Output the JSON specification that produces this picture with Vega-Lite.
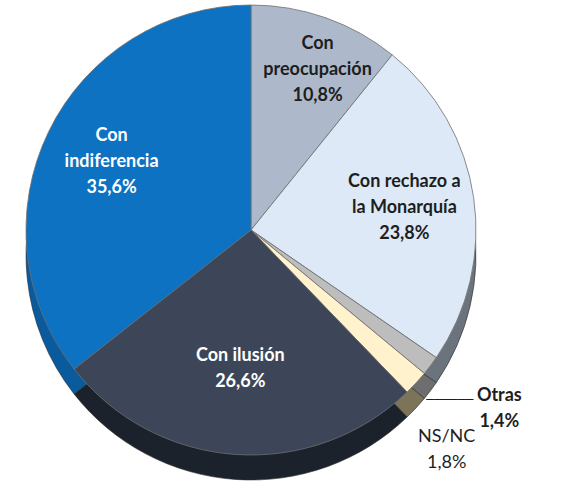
{
  "$schema": "https://vega.github.io/schema/vega-lite/v6.json",
  "width": 502,
  "height": 460,
  "autosize": "none",
  "padding": {"left": 0, "top": 0, "right": 69, "bottom": 24},
  "background": "white",
  "view": {"stroke": null},
  "config": {"font": "Lato"},
  "data": {
    "values": [
      {"categoria": "Con preocupación", "etiqueta": "Con\npreocupación\n10,8%", "porcentaje": 10.8, "orden": 1},
      {"categoria": "Con rechazo a la Monarquía", "etiqueta": "Con rechazo a\nla Monarquía\n23,8%", "porcentaje": 23.8, "orden": 2},
      {"categoria": "Otras", "etiqueta": "Otras\n1,4%", "porcentaje": 1.4, "orden": 3},
      {"categoria": "NS/NC", "etiqueta": "NS/NC\n1,8%", "porcentaje": 1.8, "orden": 4},
      {"categoria": "Con ilusión", "etiqueta": "Con ilusión\n26,6%", "porcentaje": 26.6, "orden": 5},
      {"categoria": "Con indiferencia", "etiqueta": "Con\nindiferencia\n35,6%", "porcentaje": 35.6, "orden": 6}
    ]
  },
  "encoding": {
    "theta": {"field": "porcentaje", "type": "quantitative", "stack": true},
    "order": {"field": "orden", "type": "quantitative", "sort": "ascending"}
  },
  "layer": [
    {
      "mark": {"type": "arc", "radius": 225, "yOffset": 25, "stroke": "#2a2a2a", "strokeWidth": 0.6},
      "encoding": {
        "color": {
          "field": "categoria", "type": "nominal", "legend": null,
          "scale": {
            "domain": ["Con preocupación", "Con rechazo a la Monarquía", "Otras", "NS/NC", "Con ilusión", "Con indiferencia"],
            "range": ["#6f7a88", "#6b737d", "#6e6e6e", "#7b7458", "#1c222c", "#0a5a9e"]
          }
        }
      }
    },
    {
      "mark": {"type": "arc", "radius": 225, "stroke": "#6f6f6f", "strokeWidth": 0.8},
      "encoding": {
        "color": {
          "field": "categoria", "type": "nominal", "legend": null,
          "scale": {
            "domain": ["Con preocupación", "Con rechazo a la Monarquía", "Otras", "NS/NC", "Con ilusión", "Con indiferencia"],
            "range": ["#adb9ca", "#dde9f6", "#bdbdbd", "#fff2cc", "#3c4658", "#0c72c1"]
          }
        }
      }
    },
    {
      "mark": {"type": "text", "radius": 170, "dx": 10, "dy": -26, "lineBreak": "\n", "lineHeight": 26, "fontSize": 18, "fontWeight": "bold", "align": "center", "baseline": "middle", "color": "#1e1e1e"},
      "encoding": {
        "text": {"condition": {"test": "datum.orden == 1", "field": "etiqueta"}, "value": ""}
      }
    },
    {
      "mark": {"type": "text", "radius": 155, "dy": -26, "lineBreak": "\n", "lineHeight": 26, "fontSize": 18, "fontWeight": "bold", "align": "center", "baseline": "middle"},
      "encoding": {
        "text": {"condition": {"test": "datum.orden == 2 || datum.orden == 6", "field": "etiqueta"}, "value": ""},
        "color": {"condition": {"test": "datum.orden == 6", "value": "#ffffff"}, "value": "#1e1e1e"}
      }
    },
    {
      "mark": {"type": "text", "radius": 155, "dy": -29, "lineBreak": "\n", "lineHeight": 26, "fontSize": 18, "fontWeight": "bold", "align": "center", "baseline": "middle", "color": "#ffffff"},
      "encoding": {
        "text": {"condition": {"test": "datum.orden == 5", "field": "etiqueta"}, "value": ""}
      }
    },
    {
      "mark": {"type": "text", "radius": 300, "dx": 9, "dy": -15, "lineBreak": "\n", "lineHeight": 26, "fontSize": 18, "fontWeight": "bold", "align": "center", "baseline": "middle", "color": "#1e1e1e"},
      "encoding": {
        "text": {"condition": {"test": "datum.orden == 3", "field": "etiqueta"}, "value": ""}
      }
    },
    {
      "mark": {"type": "text", "radius": 300, "dx": -17, "dy": -11, "font": "DejaVu Sans Mono", "fontSize": 13, "align": "right", "baseline": "middle", "color": "#1e1e1e"},
      "encoding": {
        "text": {"condition": {"test": "datum.orden == 3", "value": "──────"}, "value": ""}
      }
    },
    {
      "mark": {"type": "text", "radius": 290, "dx": -17, "dy": 10, "lineBreak": "\n", "lineHeight": 26, "fontSize": 18, "fontWeight": "normal", "align": "center", "baseline": "middle", "color": "#1e1e1e"},
      "encoding": {
        "text": {"condition": {"test": "datum.orden == 4", "field": "etiqueta"}, "value": ""}
      }
    }
  ],
  "resolve": {"scale": {"color": "independent"}}
}
